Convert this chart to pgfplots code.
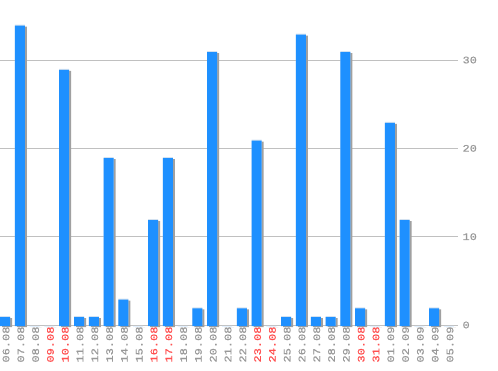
\documentclass[border=0pt]{standalone}
\usepackage{pgfplots}
\pgfplotsset{compat=1.18}
\usepackage{pgfplotstable}
\usepackage{fontspec}
\newfontfamily\labfont[FakeStretch=1.2, FakeBold=0.6]{Liberation Mono}
\definecolor{barblue}{HTML}{1E90FF}
\definecolor{bartop}{HTML}{D4E2F0}
\definecolor{shadowgray}{HTML}{A0A0A0}
\definecolor{labgray}{HTML}{999999}
\definecolor{labred}{HTML}{FF5050}
\definecolor{gridgray}{HTML}{C0C0C0}
\pgfplotstableread{
idx val
0 1
1 34
2 0
3 0
4 29
5 1
6 1
7 19
8 3
9 0
10 12
11 19
12 0
13 2
14 31
15 0
16 2
17 21
18 0
19 1
20 33
21 1
22 1
23 31
24 2
25 0
26 23
27 12
28 0
29 2
30 0
}\datatable
\begin{document}
\begin{tikzpicture}
\useasboundingbox (0pt,-45pt) rectangle (498pt,325pt);
\begin{axis}[
  at={(0pt,0pt)}, anchor=south west,
  scale only axis, width=458pt, height=325pt,
  xmin=-0.34, xmax=30.61, ymin=0, ymax=36.8,
  clip=false,
  axis line style={draw=none},
  major tick length=0pt,
  ymajorgrids, grid style={gridgray, line width=0.8pt},
  ytick={0,10,20,30},
  yticklabel pos=right,
  /pgf/number format/assume math mode=true,
  yticklabel style={anchor=west, xshift=1pt, text=labgray, font=\labfont\fontsize{10}{10}\selectfont},
  xtick={0,...,30},
  xticklabels={06.08,07.08,08.08,\textcolor{labred}{09.08},\textcolor{labred}{10.08},11.08,12.08,13.08,14.08,15.08,\textcolor{labred}{16.08},\textcolor{labred}{17.08},18.08,19.08,20.08,21.08,22.08,\textcolor{labred}{23.08},\textcolor{labred}{24.08},25.08,26.08,27.08,28.08,29.08,\textcolor{labred}{30.08},\textcolor{labred}{31.08},01.09,02.09,03.09,04.09,05.09},
  xticklabel style={rotate=90, anchor=east, xshift=2pt, yshift=-1pt, text=labgray, font=\labfont\fontsize{10}{10}\selectfont},
]
\addplot[ybar, bar width=10pt, bar shift=0pt, fill=shadowgray, draw=none, xshift=2pt, yshift=-2pt] table[x=idx, y=val] {\datatable};
\addplot[ybar, bar width=10pt, bar shift=0pt, fill=bartop, draw=none] table[x=idx, y=val] {\datatable};
\addplot[ybar, bar width=10pt, bar shift=0pt, fill=barblue, draw=none, yshift=-1pt] table[x=idx, y=val] {\datatable};
\end{axis}
\end{tikzpicture}
\end{document}
